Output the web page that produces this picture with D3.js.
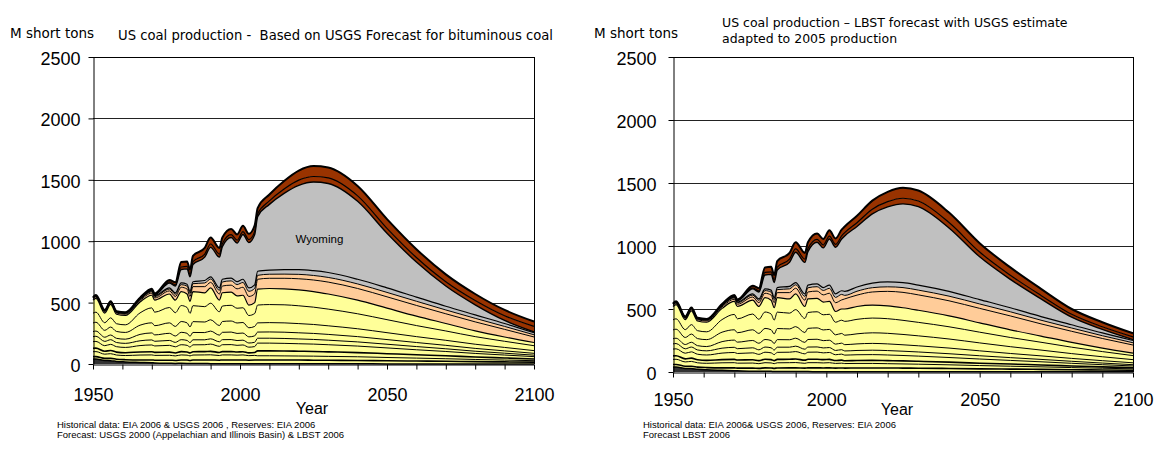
<!DOCTYPE html>
<html><head><meta charset="utf-8">
<script src="https://cdn.jsdelivr.net/npm/d3@7"></script>
<style>
body{margin:0;background:#fff}
svg{display:block}
text{white-space:pre}
</style></head><body>
<svg id="c" width="1156" height="455"></svg>
<script>
// ---------- DATA (M short tons per layer, bottom to top) ----------
const histYears = [1950,1951,1954,1956,1958,1961,1966,1970,1971,1976,1978,1980,1982,1983,1984,1988,1990,1993,1994,1997,1999,2001,2003,2005];
const fcYears = [2006,2010,2015,2020,2025,2030,2040,2050,2060,2070,2080,2090,2100];
const layerKeys = ["D0","Y1","Y2","Y3","Y4","Y5","Y6","Y7","Y8","Y9","P1","P2","G1","W","B1","B2"];

// history 1950-2005 (shared by both charts)
const hD0 = [40,40,28,27,21,17,13,10,9,6,5,6,5,4,4,4,3,3,3,2,2,2,2,2];
const hY1 = [20,20,18,19,18,18,20,23,22,25,24,27,27,25,28,29,30,28,30,31,30,31,29,30];
const hY2 = [40,41,34,38,34,34,40,41,39,40,37,41,40,37,41,41,42,38,41,41,40,41,37,38];
const hY3 = [28,28,24,26,24,23,25,26,25,26,24,27,26,24,27,27,28,25,27,27,26,26,23,24];
const hY4 = [54,55,45,50,44,43,52,55,52,55,50,56,54,48,56,56,59,50,56,57,54,55,46,48];
const hY5 = [41,42,35,38,34,33,39,41,38,40,36,41,40,36,41,40,43,37,41,41,39,39,34,35];
const hY6 = [41,42,34,38,34,34,52,57,52,58,52,60,58,52,60,59,63,54,60,61,58,58,50,52];
const hY7 = [70,72,56,65,56,55,75,82,75,85,78,88,85,76,88,86,92,78,88,90,85,86,74,77];
const hY8 = [80,82,62,75,63,62,100,122,110,125,112,130,125,110,130,125,135,112,126,128,120,120,100,105];
const hY9 = [106,113,79,109,77,76,89,103,98,110,102,114,110,98,115,113,125,95,108,107,101,102,85,89];
const hP1 = [10,10,10,11,10,10,12,17,18,25,30,35,40,40,40,50,45,50,55,57,57,65,70,72];
const hP2 = [6,7,6,7,6,7,8,11,11,15,18,21,24,24,24,30,27,30,33,35,35,39,42,44];
const hG1 = [4,4,4,4,4,4,5,7,7,10,12,14,16,16,16,20,18,20,22,23,23,26,28,29];
const hW  = [0,0,0,0,0,0,3,8,10,40,55,110,125,120,140,190,240,250,265,330,315,365,370,410];
const hB1 = [2,2,2,2,2,2,2,3,3,8,10,20,20,20,23,25,27,25,25,23,23,23,23,25];
const hB2 = [3,4,3,3,3,3,5,6,6,17,20,40,40,40,47,50,53,50,50,47,47,47,47,50];

// left chart forecast (USGS based)
const lD0 = [2,2,2,2,2,2,2,1,1,1,1,1,1];
const lY1 = [31,31,30,30,29,28,27,25,23,21,18,16,14];
const lY2 = [34,34,34,33,33,32,30,27,24,21,18,15,12];
const lY3 = [40,40,40,39,38,37,34,31,27,24,20,17,14];
const lY4 = [63,63,62,61,60,58,53,47,41,35,29,24,19];
const lY5 = [40,40,40,39,38,37,34,30,26,22,18,15,12];
const lY6 = [50,51,51,50,49,47,43,38,33,28,23,19,15];
const lY7 = [75,76,76,75,73,70,64,56,48,41,34,28,22];
const lY8 = [145,147,147,145,141,136,122,106,90,76,62,50,40];
const lY9 = [130,131,130,130,127,123,111,94,77,61,47,35,26];
const lP1 = [80,83,86,90,94,97,95,92,87,79,73,62,45];
const lP2 = [32,33,34,36,37,38,37,36,34,31,29,24,18];
const lG1 = [33,34,36,38,39,40,38,37,34,30,28,24,17];
const lW  = [445,535,622,687,722,725,635,445,285,165,82,25,7];
const lB1 = [24,28,35,42,45,45,44,40,37,35,35,38,44];
const lB2 = [46,52,65,78,85,85,81,75,68,60,53,47,40];

// right chart forecast (LBST)
const rD0 = [2,2,2,2,2,2,2,1,1,1,1,1,1];
const rY1 = [29,30,30,30,29,28,26,24,22,20,17,15,13];
const rY2 = [36,36,36,34,33,32,29,26,23,20,17,14,11];
const rY3 = [22,23,24,24,24,23,21,19,17,15,13,11,9];
const rY4 = [45,46,46,45,43,41,37,33,29,25,21,17,14];
const rY5 = [33,34,35,35,34,33,30,26,22,19,16,13,10];
const rY6 = [50,52,54,53,51,49,45,39,33,28,23,19,15];
const rY7 = [75,80,84,84,82,79,72,63,54,46,38,31,25];
const rY8 = [110,115,117,116,112,107,97,85,73,62,51,41,32];
const rY9 = [98,102,102,102,100,96,86,74,61,49,38,28,20];
const rP1 = [80,90,105,115,122,122,120,115,110,97,88,76,64];
const rP2 = [28,31,34,36,38,38,37,35,33,29,26,22,18];
const rG1 = [32,34,36,39,40,40,38,35,32,29,26,22,18];
const rW  = [440,480,550,595,624,622,503,339,225,140,60,28,7];
const rB1 = [26,30,37,42,45,45,43,38,33,28,23,21,22];
const rB2 = [49,55,68,78,83,83,79,70,62,52,42,36,28];

const yTicks = [0,500,1000,1500,2000,2500];
const gridValues = [500,1000,1500,2000];

// ---------- STYLE ----------
const layerColors = {D0:"#333333",Y1:"#FFFF99",Y2:"#FFFF99",Y3:"#FFFF99",Y4:"#FFFF99",Y5:"#FFFF99",
  Y6:"#FFFF99",Y7:"#FFFF99",Y8:"#FFFF99",Y9:"#FFFF99",P1:"#FFCC99",P2:"#FFCC99",G1:"#C0C0C0",
  W:"#C0C0C0",B1:"#993300",B2:"#993300"};
const edgeWidth = {D0:1.5,Y1:1.6,Y2:1,Y3:1.6,Y4:1,Y5:1,Y6:1,Y7:1,Y8:1,Y9:1.2,P1:1,P2:1,G1:1.2,W:1.4,B1:1.2,B2:2};

const hist = {D0:hD0,Y1:hY1,Y2:hY2,Y3:hY3,Y4:hY4,Y5:hY5,Y6:hY6,Y7:hY7,Y8:hY8,Y9:hY9,P1:hP1,P2:hP2,G1:hG1,W:hW,B1:hB1,B2:hB2};
const leftFc = {D0:lD0,Y1:lY1,Y2:lY2,Y3:lY3,Y4:lY4,Y5:lY5,Y6:lY6,Y7:lY7,Y8:lY8,Y9:lY9,P1:lP1,P2:lP2,G1:lG1,W:lW,B1:lB1,B2:lB2};
const rightFc = {D0:rD0,Y1:rY1,Y2:rY2,Y3:rY3,Y4:rY4,Y5:rY5,Y6:rY6,Y7:rY7,Y8:rY8,Y9:rY9,P1:rP1,P2:rP2,G1:rG1,W:rW,B1:rB1,B2:rB2};

const svg = d3.select("#c");
const AX_FONT = "'Liberation Sans', Arial, sans-serif";
const TI_FONT = "'DejaVu Sans', Verdana, sans-serif";

function drawChart(opt) {
  const g = svg.append("g");
  const years = histYears.concat(fcYears);
  const rows = years.map((yr, i) => {
    const o = {year: yr};
    layerKeys.forEach(k => { o[k] = i < histYears.length ? hist[k][i] : opt.fc[k][i - histYears.length]; });
    return o;
  });
  const x = d3.scaleLinear().domain([1950, 2100]).range([opt.left, opt.right]);
  const y = d3.scaleLinear().domain([0, 2500]).range([opt.bottom, opt.top]);
  const stacked = d3.stack().keys(layerKeys)(rows);

  g.append("g").selectAll("line").data(gridValues).join("line")
    .attr("x1", opt.left).attr("x2", opt.right)
    .attr("y1", d => Math.round(y(d)) + 0.5).attr("y2", d => Math.round(y(d)) + 0.5)
    .attr("stroke", "#222").attr("stroke-width", 1);

  const area = d3.area().curve(d3.curveMonotoneX)
    .x(d => x(d.data.year)).y0(d => y(d[0])).y1(d => y(d[1]));
  g.append("g").selectAll("path").data(stacked).join("path")
    .attr("d", area).attr("fill", d => layerColors[d.key]);

  const line = d3.line().curve(d3.curveMonotoneX)
    .x(d => x(d.data.year)).y(d => y(d[1]));
  g.append("g").selectAll("path").data(stacked).join("path")
    .attr("d", line).attr("fill", "none").attr("stroke", "#000")
    .attr("stroke-width", d => edgeWidth[d.key])
    .attr("stroke-linejoin", "round");

  // box top & right
  g.append("line").attr("x1", opt.left).attr("x2", opt.right + 0.5)
    .attr("y1", Math.round(y(2500)) + 0.5).attr("y2", Math.round(y(2500)) + 0.5).attr("stroke", "#000");
  g.append("line").attr("x1", Math.round(opt.right) + 0.5).attr("x2", Math.round(opt.right) + 0.5)
    .attr("y1", y(2500)).attr("y2", y(0)).attr("stroke", "#000");

  const yAxis = d3.axisLeft(y).tickValues(yTicks).tickSize(5).tickSizeOuter(0)
    .tickPadding(opt.yPad).tickFormat(d3.format("d"));
  const ya = g.append("g").attr("transform", `translate(${Math.round(opt.left) + 0.5},0)`).call(yAxis);
  const xAxis = d3.axisBottom(x).tickValues(d3.range(1950, 2101, 10)).tickSize(5).tickSizeOuter(0)
    .tickPadding(opt.xPad).tickFormat(d => d % 50 === 0 ? String(d) : "");
  const xa = g.append("g").attr("transform", `translate(0,${Math.round(opt.bottom) + 0.5})`).call(xAxis);
  [ya, xa].forEach(a => {
    a.attr("font-family", AX_FONT).attr("font-size", 18);
    a.selectAll("text").attr("fill", "#000");
    a.selectAll("line,path").attr("stroke", "#000");
  });
  ya.selectAll("text").attr("dy", "0.42em");

  g.append("text").attr("x", opt.yearX).attr("y", opt.yearY).attr("text-anchor", "middle")
    .attr("font-family", AX_FONT).attr("font-size", 16).text("Year");
  g.append("text").attr("x", opt.unitX).attr("y", opt.unitY)
    .attr("font-family", TI_FONT).attr("font-size", 13.5).text("M short tons");
  opt.title.forEach((t, i) => g.append("text").attr("x", opt.titleX).attr("y", opt.titleY[i])
    .attr("font-family", TI_FONT).attr("font-size", opt.titleSize).text(t));
  opt.notes.forEach((t, i) => g.append("text").attr("x", opt.noteX).attr("y", 428 + i * 10)
    .attr("font-family", AX_FONT).attr("font-size", 9.5).text(t));
  if (opt.label) {
    g.append("text").attr("x", x(opt.label.year)).attr("y", y(opt.label.value)).attr("text-anchor", "middle")
      .attr("font-family", AX_FONT).attr("font-size", 11.5).text(opt.label.text);
  }
}

drawChart({
  fc: leftFc, left: 93, right: 534, top: 57, bottom: 364, yPad: 8, xPad: 19,
  yearX: 312, yearY: 414, unitX: 10, unitY: 38, titleX: 118, titleY: [40], titleSize: 13.2,
  title: ["US coal production -  Based on USGS Forecast for bituminous coal"],
  noteX: 57,
  notes: ["Historical data: EIA 2006 & USGS 2006 , Reserves: EIA 2006",
          "Forecast: USGS 2000 (Appelachian and Illinois Basin) & LBST 2006"],
  label: {text: "Wyoming", year: 2027, value: 985}
});
drawChart({
  fc: rightFc, left: 673, right: 1133, top: 57, bottom: 372, yPad: 12, xPad: 16,
  yearX: 897, yearY: 415, unitX: 594, unitY: 38, titleX: 722, titleY: [27, 43], titleSize: 12.5,
  title: ["US coal production \u2013 LBST forecast with USGS estimate", "adapted to 2005 production"],
  noteX: 643,
  notes: ["Historical data: EIA 2006& USGS 2006, Reserves: EIA 2006", "Forecast LBST 2006"]
});
</script>
</body></html>
